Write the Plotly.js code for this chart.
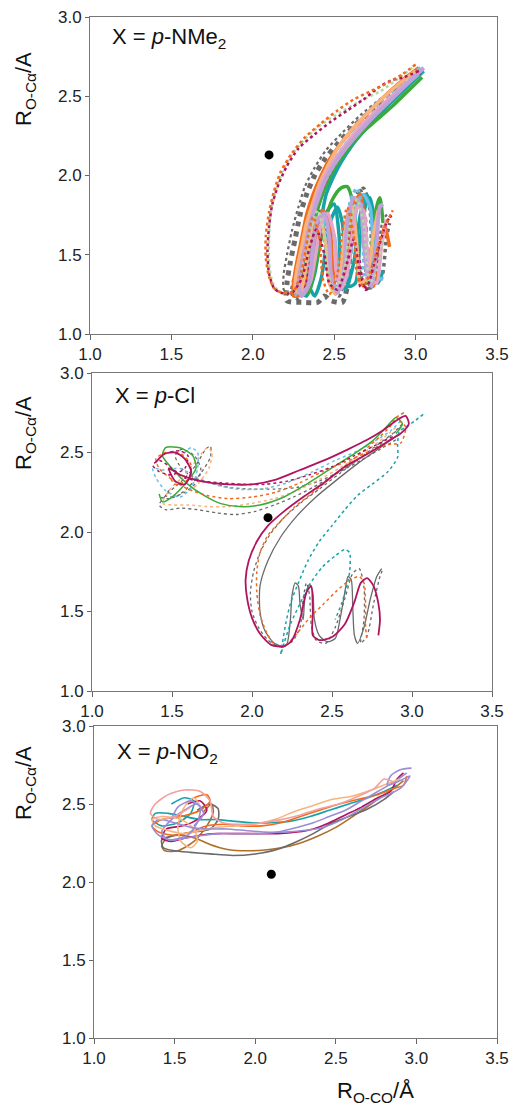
<!DOCTYPE html>
<html>
<head>
<meta charset="utf-8">
<script src="https://cdn.plot.ly/plotly-3.0.1.min.js"></script>
<style>html,body{margin:0;padding:0;background:#fff;}#chart{width:514px;height:1109px;}</style>
</head>
<body>
<div id="chart"></div>
<script>
// ---------- Axis ticks ----------
const xTicks = [1.0, 1.5, 2.0, 2.5, 3.0, 3.5];
const xTickLabels = ['1.0', '1.5', '2.0', '2.5', '3.0', '3.5'];
const yTicks = [1.0, 1.5, 2.0, 2.5, 3.0];
const yTickLabels = ['1.0', '1.5', '2.0', '2.5', '3.0'];

// ---------- Panel labels ----------
const panelLabels = ['X = <i>p</i>-NMe<sub>2</sub>', 'X = <i>p</i>-Cl', 'X = <i>p</i>-NO<sub>2</sub>'];
const yTitle = 'R<sub>O-Cα</sub>/A';
const xTitle = 'R<sub>O-CO</sub>/Å';

// ---------- Reference points (black dots) ----------
const dotNMe2 = [2.10, 2.13];
const dotCl = [2.10, 2.09];
const dotNO2 = [2.10, 2.05];

// ---------- Panel 1: X = p-NMe2 trajectories [R(O-CO), R(O-Ca)] ----------
const nme2_gray1 = [[3.04,2.66],[2.95,2.60],[2.85,2.51],[2.74,2.42],[2.62,2.31],[2.52,2.20],[2.44,2.10],[2.38,2.00],[2.33,1.88],[2.29,1.75],[2.26,1.60],[2.23,1.45],[2.21,1.32],[2.21,1.21],[2.30,1.20],[2.40,1.20],[2.44,1.24],[2.48,1.21],[2.55,1.20],[2.58,1.30],[2.60,1.55],[2.63,1.80],[2.66,1.90],[2.69,1.70],[2.70,1.40],[2.72,1.28]];
const nme2_orange1 = [[3.00,2.70],[2.92,2.64],[2.82,2.58],[2.72,2.53],[2.62,2.48],[2.52,2.41],[2.42,2.33],[2.32,2.24],[2.24,2.14],[2.17,2.02],[2.13,1.90],[2.10,1.77],[2.08,1.62],[2.08,1.48],[2.10,1.36],[2.13,1.29],[2.18,1.26],[2.25,1.27],[2.30,1.40],[2.34,1.62],[2.37,1.74],[2.41,1.60],[2.43,1.35],[2.47,1.25],[2.52,1.38],[2.55,1.65],[2.58,1.80],[2.62,1.62],[2.64,1.38],[2.68,1.30],[2.74,1.45],[2.80,1.65],[2.86,1.78]];
const nme2_magenta1 = [[3.02,2.66],[2.93,2.62],[2.85,2.60],[2.78,2.56],[2.68,2.48],[2.58,2.41],[2.48,2.34],[2.38,2.26],[2.28,2.17],[2.21,2.06],[2.16,1.95],[2.12,1.82],[2.10,1.68],[2.09,1.52],[2.10,1.38],[2.13,1.29],[2.17,1.26],[2.24,1.26],[2.30,1.35],[2.35,1.55],[2.39,1.66],[2.44,1.50],[2.47,1.32],[2.52,1.28],[2.58,1.45],[2.62,1.60],[2.65,1.42],[2.66,1.30],[2.70,1.30],[2.76,1.50],[2.82,1.70],[2.85,1.75]];
const nme2_lgreen1 = [[2.98,2.68],[2.88,2.60],[2.78,2.53],[2.66,2.47],[2.54,2.40],[2.42,2.32],[2.32,2.23],[2.24,2.13],[2.18,2.02],[2.14,1.90],[2.11,1.76],[2.10,1.60],[2.10,1.45],[2.12,1.33],[2.16,1.27],[2.22,1.26],[2.28,1.30],[2.32,1.50],[2.36,1.68],[2.40,1.78],[2.44,1.62],[2.46,1.40],[2.50,1.27],[2.56,1.40],[2.60,1.70],[2.64,1.85],[2.68,1.70],[2.70,1.45],[2.72,1.32],[2.76,1.40],[2.80,1.60]];
const nme2_gray2 = [[3.00,2.64],[2.90,2.57],[2.78,2.48],[2.66,2.38],[2.55,2.27],[2.45,2.16],[2.38,2.05],[2.32,1.93],[2.28,1.80],[2.24,1.65],[2.21,1.50],[2.19,1.38],[2.19,1.28],[2.23,1.24],[2.28,1.35],[2.32,1.55],[2.36,1.72],[2.40,1.80],[2.44,1.66],[2.46,1.45],[2.48,1.30],[2.53,1.28],[2.57,1.50],[2.60,1.70],[2.64,1.60],[2.66,1.40],[2.70,1.28],[2.75,1.45],[2.80,1.72],[2.83,1.76]];
const nme2_orange2 = [[3.02,2.68],[2.93,2.61],[2.83,2.52],[2.72,2.41],[2.62,2.30],[2.54,2.20],[2.47,2.10],[2.42,2.00],[2.37,1.88],[2.33,1.75],[2.30,1.60],[2.27,1.45],[2.25,1.32],[2.25,1.24],[2.30,1.25],[2.35,1.42],[2.39,1.65],[2.43,1.78],[2.47,1.70],[2.49,1.45],[2.51,1.28],[2.55,1.30],[2.59,1.58],[2.62,1.82],[2.66,1.88],[2.69,1.65],[2.71,1.38],[2.74,1.30],[2.78,1.50],[2.81,1.68],[2.84,1.55]];
const nme2_teal = [[3.00,2.62],[2.92,2.55],[2.82,2.45],[2.72,2.34],[2.63,2.23],[2.55,2.12],[2.49,2.02],[2.44,1.92],[2.40,1.80],[2.36,1.66],[2.33,1.52],[2.30,1.38],[2.29,1.27],[2.33,1.24],[2.38,1.38],[2.42,1.62],[2.46,1.78],[2.50,1.82],[2.53,1.62],[2.54,1.40],[2.57,1.28],[2.62,1.45],[2.66,1.75],[2.70,1.88],[2.74,1.72],[2.75,1.45],[2.77,1.32],[2.80,1.40]];
const nme2_teal2 = [[3.05,2.66],[2.97,2.58],[2.88,2.49],[2.79,2.40],[2.70,2.30],[2.61,2.19],[2.54,2.08],[2.49,1.98],[2.45,1.88],[2.43,1.78],[2.40,1.62],[2.37,1.45],[2.35,1.30],[2.38,1.24],[2.42,1.35],[2.45,1.55],[2.48,1.72],[2.52,1.80],[2.55,1.70],[2.57,1.48],[2.59,1.30],[2.63,1.32],[2.66,1.60],[2.69,1.80],[2.72,1.86],[2.75,1.70],[2.77,1.45]];
const nme2_green = [[3.04,2.62],[2.96,2.54],[2.86,2.44],[2.76,2.35],[2.66,2.26],[2.58,2.16],[2.51,2.06],[2.46,1.96],[2.42,1.86],[2.38,1.72],[2.35,1.56],[2.32,1.40],[2.30,1.28],[2.34,1.26],[2.39,1.45],[2.44,1.70],[2.49,1.85],[2.54,1.92],[2.58,1.93],[2.62,1.80],[2.64,1.55],[2.66,1.35],[2.70,1.32],[2.73,1.55],[2.76,1.80],[2.78,1.86],[2.80,1.70]];
const nme2_lblue = [[3.02,2.64],[2.94,2.57],[2.84,2.48],[2.74,2.38],[2.64,2.27],[2.56,2.16],[2.49,2.05],[2.43,1.94],[2.38,1.82],[2.34,1.68],[2.31,1.54],[2.28,1.40],[2.26,1.28],[2.30,1.24],[2.36,1.40],[2.40,1.60],[2.45,1.72],[2.50,1.62],[2.52,1.42],[2.55,1.30],[2.60,1.50],[2.64,1.80],[2.68,1.88],[2.72,1.80],[2.74,1.55],[2.76,1.35],[2.80,1.35]];
const nme2_lblue2 = [[3.03,2.68],[2.96,2.62],[2.87,2.53],[2.77,2.43],[2.67,2.32],[2.58,2.21],[2.50,2.10],[2.44,1.99],[2.39,1.88],[2.35,1.76],[2.32,1.62],[2.29,1.48],[2.27,1.34],[2.27,1.24],[2.32,1.28],[2.35,1.48],[2.38,1.66],[2.42,1.72],[2.45,1.58],[2.46,1.40],[2.50,1.28],[2.54,1.35],[2.57,1.62],[2.60,1.84],[2.64,1.92],[2.67,1.80],[2.68,1.55],[2.69,1.35],[2.73,1.32],[2.76,1.50]];
const nme2_lavender = [[3.05,2.68],[2.97,2.60],[2.87,2.50],[2.76,2.39],[2.66,2.28],[2.57,2.17],[2.50,2.07],[2.44,1.96],[2.40,1.85],[2.36,1.72],[2.33,1.58],[2.30,1.44],[2.28,1.30],[2.30,1.24],[2.34,1.30],[2.37,1.55],[2.40,1.72],[2.44,1.76],[2.47,1.60],[2.48,1.38],[2.52,1.26],[2.56,1.40],[2.58,1.70],[2.62,1.86],[2.66,1.82],[2.68,1.60],[2.70,1.40],[2.73,1.30],[2.76,1.55],[2.78,1.80],[2.80,1.82]];
const nme2_pink = [[3.04,2.67],[2.96,2.60],[2.86,2.51],[2.76,2.41],[2.66,2.31],[2.58,2.21],[2.51,2.11],[2.45,2.01],[2.40,1.90],[2.37,1.78],[2.34,1.64],[2.31,1.50],[2.29,1.36],[2.30,1.26],[2.35,1.32],[2.39,1.52],[2.42,1.70],[2.46,1.76],[2.50,1.62],[2.51,1.42],[2.54,1.28],[2.58,1.38],[2.61,1.62],[2.64,1.80],[2.68,1.78],[2.70,1.55],[2.72,1.36],[2.76,1.32],[2.79,1.55],[2.82,1.72]];
const nme2_peach = [[3.00,2.66],[2.90,2.58],[2.80,2.49],[2.70,2.39],[2.60,2.28],[2.52,2.17],[2.46,2.06],[2.41,1.95],[2.37,1.83],[2.33,1.70],[2.30,1.55],[2.27,1.40],[2.26,1.28],[2.29,1.26],[2.33,1.45],[2.37,1.70],[2.41,1.74],[2.45,1.55],[2.47,1.32],[2.51,1.25],[2.55,1.50],[2.58,1.75],[2.61,1.80],[2.64,1.55],[2.66,1.32],[2.70,1.35],[2.74,1.62],[2.77,1.78]];
const nme2_magenta2 = [[3.03,2.65],[2.95,2.59],[2.86,2.50],[2.76,2.40],[2.66,2.29],[2.58,2.19],[2.51,2.08],[2.45,1.97],[2.40,1.85],[2.36,1.72],[2.32,1.57],[2.29,1.42],[2.27,1.29],[2.31,1.26],[2.36,1.50],[2.40,1.70],[2.44,1.60],[2.47,1.40],[2.50,1.30],[2.56,1.45],[2.60,1.65],[2.64,1.55],[2.67,1.35],[2.69,1.28],[2.72,1.30],[2.78,1.55],[2.83,1.72],[2.86,1.76]];
const nme2_gray3 = [[3.02,2.63],[2.94,2.56],[2.84,2.46],[2.74,2.36],[2.64,2.25],[2.55,2.14],[2.48,2.03],[2.42,1.92],[2.37,1.80],[2.32,1.66],[2.29,1.52],[2.26,1.38],[2.24,1.26],[2.28,1.22],[2.33,1.30],[2.37,1.55],[2.41,1.70],[2.45,1.66],[2.47,1.45],[2.49,1.28],[2.53,1.24],[2.57,1.38],[2.61,1.65],[2.64,1.88],[2.68,1.92],[2.72,1.78],[2.73,1.50],[2.75,1.32],[2.79,1.35],[2.82,1.60],[2.84,1.70]];

// ---------- Panel 2: X = p-Cl trajectories ----------
const cl_magenta1 = [[1.40,2.44],[1.45,2.49],[1.52,2.50],[1.58,2.46],[1.62,2.38],[1.58,2.30],[1.52,2.32],[1.48,2.40],[1.55,2.36],[1.68,2.32],[1.85,2.30],[2.00,2.30],[2.15,2.33],[2.30,2.39],[2.45,2.45],[2.60,2.52],[2.72,2.58],[2.82,2.64],[2.90,2.70],[2.96,2.73],[2.98,2.68],[2.93,2.62],[2.85,2.57],[2.72,2.49],[2.58,2.41],[2.45,2.31],[2.32,2.22],[2.20,2.13],[2.10,2.04],[2.03,1.94],[1.98,1.82],[1.96,1.70],[1.97,1.58],[2.00,1.46],[2.05,1.36],[2.12,1.29],[2.20,1.28],[2.25,1.32],[2.30,1.45],[2.34,1.62],[2.37,1.66],[2.38,1.50],[2.38,1.35],[2.42,1.32],[2.50,1.34],[2.58,1.42],[2.64,1.56],[2.68,1.68],[2.72,1.71],[2.76,1.66],[2.79,1.55],[2.80,1.45],[2.79,1.35]];
const cl_gray1 = [[2.93,2.66],[2.86,2.60],[2.76,2.52],[2.64,2.44],[2.50,2.35],[2.38,2.28],[2.26,2.22],[2.14,2.17],[2.02,2.13],[1.90,2.11],[1.78,2.12],[1.66,2.14],[1.55,2.15],[1.46,2.14],[1.42,2.17],[1.47,2.24],[1.56,2.32],[1.65,2.42],[1.71,2.52],[1.74,2.54],[1.74,2.47],[1.68,2.37],[1.60,2.28],[1.52,2.22],[1.46,2.23],[1.50,2.28]];
const cl_gray2 = [[2.94,2.68],[2.88,2.62],[2.80,2.56],[2.68,2.47],[2.55,2.37],[2.42,2.27],[2.30,2.18],[2.19,2.08],[2.11,1.98],[2.05,1.87],[2.01,1.75],[1.99,1.62],[2.00,1.50],[2.04,1.40],[2.10,1.32],[2.17,1.28],[2.25,1.31],[2.30,1.40],[2.32,1.58],[2.34,1.68],[2.36,1.60],[2.37,1.42],[2.40,1.32],[2.46,1.30],[2.52,1.40],[2.58,1.58],[2.63,1.74],[2.67,1.77],[2.70,1.65],[2.70,1.45],[2.68,1.30],[2.72,1.35],[2.76,1.55],[2.80,1.72],[2.82,1.77]];
const cl_gray3 = [[2.92,2.62],[2.80,2.53],[2.66,2.43],[2.52,2.32],[2.40,2.22],[2.28,2.10],[2.18,1.97],[2.10,1.82],[2.05,1.66],[2.05,1.50],[2.08,1.38],[2.14,1.30],[2.20,1.28],[2.22,1.30],[2.24,1.45],[2.25,1.60],[2.27,1.68],[2.29,1.66],[2.30,1.55],[2.32,1.45],[2.33,1.58],[2.36,1.67],[2.38,1.62],[2.39,1.45],[2.42,1.35],[2.47,1.31],[2.52,1.33],[2.55,1.45],[2.58,1.62],[2.60,1.72],[2.62,1.70],[2.63,1.52],[2.64,1.35],[2.66,1.30],[2.70,1.40],[2.74,1.58],[2.78,1.72],[2.81,1.77]];
const cl_orange1 = [[2.95,2.75],[2.90,2.72],[2.86,2.66],[2.80,2.60],[2.72,2.53],[2.60,2.43],[2.48,2.33],[2.37,2.24],[2.27,2.16],[2.18,2.07],[2.10,1.98],[2.05,1.87],[2.03,1.75],[2.03,1.62],[2.05,1.48],[2.09,1.37],[2.14,1.29],[2.20,1.28],[2.28,1.36],[2.36,1.46],[2.45,1.55],[2.53,1.63],[2.60,1.69],[2.67,1.72],[2.70,1.68],[2.71,1.55],[2.71,1.40],[2.72,1.32]];
const cl_orange2 = [[2.92,2.70],[2.96,2.66],[2.93,2.56],[2.85,2.55],[2.72,2.50],[2.58,2.44],[2.44,2.38],[2.30,2.31],[2.15,2.25],[2.00,2.22],[1.85,2.21],[1.72,2.23],[1.60,2.27],[1.50,2.33],[1.42,2.40],[1.40,2.46],[1.46,2.50],[1.56,2.49],[1.62,2.42],[1.60,2.33],[1.52,2.30],[1.48,2.36]];
const cl_green = [[2.90,2.62],[2.94,2.68],[2.90,2.72],[2.84,2.66],[2.75,2.57],[2.62,2.48],[2.48,2.39],[2.34,2.30],[2.20,2.22],[2.05,2.17],[1.92,2.16],[1.80,2.18],[1.70,2.23],[1.60,2.30],[1.50,2.40],[1.44,2.48],[1.46,2.53],[1.55,2.53],[1.63,2.48],[1.65,2.40],[1.58,2.30],[1.50,2.22],[1.44,2.19],[1.42,2.24]];
const cl_lblue = [[2.93,2.70],[2.87,2.64],[2.78,2.58],[2.66,2.51],[2.52,2.45],[2.38,2.38],[2.22,2.31],[2.06,2.27],[1.90,2.27],[1.76,2.30],[1.64,2.35],[1.55,2.40],[1.45,2.39],[1.38,2.40],[1.40,2.34],[1.46,2.26],[1.55,2.22],[1.62,2.28],[1.66,2.40],[1.66,2.50],[1.62,2.53],[1.56,2.48]];
const cl_peach = [[2.90,2.66],[2.82,2.59],[2.70,2.50],[2.56,2.41],[2.42,2.33],[2.28,2.26],[2.14,2.21],[2.00,2.18],[1.86,2.16],[1.72,2.16],[1.60,2.17],[1.50,2.17],[1.44,2.18],[1.48,2.26],[1.58,2.36],[1.66,2.46],[1.72,2.53],[1.75,2.50],[1.73,2.40],[1.66,2.30],[1.58,2.24]];
const cl_magenta2 = [[2.88,2.60],[2.78,2.55],[2.64,2.48],[2.50,2.41],[2.36,2.36],[2.22,2.32],[2.08,2.30],[1.94,2.30],[1.80,2.31],[1.68,2.32],[1.58,2.34],[1.50,2.40],[1.42,2.45],[1.38,2.42],[1.42,2.38],[1.50,2.36],[1.58,2.40],[1.60,2.48],[1.55,2.51],[1.48,2.50]];
const cl_teal = [[3.07,2.74],[3.02,2.70],[2.96,2.66],[2.92,2.63],[2.91,2.55],[2.91,2.47],[2.85,2.38],[2.75,2.30],[2.66,2.23],[2.58,2.14],[2.50,2.04],[2.42,1.94],[2.35,1.82],[2.29,1.68],[2.24,1.55],[2.21,1.42],[2.19,1.30],[2.18,1.23],[2.20,1.30],[2.24,1.42],[2.30,1.55],[2.36,1.67],[2.44,1.78],[2.52,1.85],[2.58,1.89],[2.61,1.87],[2.61,1.75],[2.59,1.65],[2.56,1.55],[2.52,1.45]];
const cl_gray4 = [[2.90,2.58],[2.80,2.52],[2.68,2.45],[2.55,2.38],[2.42,2.32],[2.28,2.28],[2.14,2.27],[2.00,2.27],[1.86,2.28],[1.74,2.31],[1.64,2.34],[1.56,2.40],[1.52,2.48],[1.56,2.52],[1.64,2.48],[1.68,2.40],[1.66,2.32],[1.58,2.25],[1.48,2.21],[1.42,2.22]];

// ---------- Panel 3: X = p-NO2 trajectories ----------
const no2_brown = [[2.92,2.65],[2.86,2.60],[2.80,2.56],[2.72,2.50],[2.62,2.43],[2.50,2.35],[2.38,2.29],[2.25,2.24],[2.10,2.21],[1.95,2.20],[1.82,2.21],[1.72,2.24],[1.63,2.28],[1.52,2.30],[1.45,2.28],[1.42,2.23],[1.44,2.20],[1.52,2.20],[1.62,2.26],[1.70,2.36],[1.74,2.45],[1.73,2.50],[1.68,2.45]];
const no2_gray = [[2.86,2.58],[2.80,2.53],[2.70,2.47],[2.58,2.42],[2.46,2.37],[2.36,2.31],[2.26,2.26],[2.14,2.21],[2.00,2.18],[1.86,2.17],[1.72,2.18],[1.60,2.19],[1.50,2.20],[1.43,2.22],[1.42,2.27],[1.50,2.30],[1.62,2.32],[1.72,2.34],[1.77,2.40],[1.77,2.47],[1.72,2.50],[1.64,2.46]];
const no2_teal = [[2.88,2.62],[2.80,2.58],[2.70,2.54],[2.58,2.50],[2.46,2.46],[2.34,2.42],[2.22,2.39],[2.10,2.38],[1.98,2.38],[1.86,2.39],[1.76,2.40],[1.66,2.40],[1.56,2.42],[1.46,2.44],[1.38,2.44],[1.36,2.40],[1.42,2.36],[1.52,2.38],[1.60,2.44],[1.62,2.52],[1.56,2.54],[1.48,2.50]];
const no2_orange = [[2.94,2.68],[2.92,2.62],[2.86,2.60],[2.76,2.56],[2.64,2.53],[2.52,2.50],[2.40,2.46],[2.28,2.42],[2.16,2.38],[2.04,2.36],[1.92,2.36],[1.80,2.37],[1.70,2.36],[1.60,2.32],[1.50,2.30],[1.40,2.32],[1.36,2.36],[1.42,2.40],[1.54,2.42],[1.66,2.46],[1.72,2.52],[1.70,2.56],[1.62,2.54]];
const no2_peach = [[2.90,2.66],[2.82,2.63],[2.72,2.59],[2.60,2.55],[2.48,2.53],[2.36,2.49],[2.24,2.45],[2.12,2.40],[2.00,2.37],[1.88,2.36],[1.76,2.35],[1.66,2.33],[1.56,2.31],[1.46,2.33],[1.38,2.36],[1.36,2.40],[1.42,2.42],[1.54,2.40],[1.62,2.34],[1.64,2.26],[1.60,2.22],[1.54,2.26],[1.52,2.36],[1.56,2.48],[1.62,2.54],[1.66,2.48]];
const no2_purple1 = [[2.97,2.73],[2.90,2.72],[2.84,2.68],[2.82,2.62],[2.90,2.65],[2.96,2.68],[2.90,2.60],[2.78,2.54],[2.66,2.47],[2.54,2.40],[2.42,2.35],[2.30,2.33],[2.18,2.32],[2.06,2.32],[1.94,2.33],[1.82,2.34],[1.70,2.34],[1.60,2.35],[1.50,2.38],[1.40,2.40],[1.36,2.36],[1.40,2.30],[1.48,2.27],[1.58,2.30],[1.64,2.38],[1.66,2.48],[1.60,2.52],[1.52,2.48],[1.48,2.40]];
const no2_purple2 = [[2.94,2.70],[2.86,2.64],[2.76,2.58],[2.66,2.52],[2.56,2.46],[2.46,2.42],[2.36,2.38],[2.26,2.35],[2.14,2.32],[2.02,2.31],[1.90,2.31],[1.78,2.31],[1.68,2.30],[1.56,2.28],[1.46,2.27],[1.42,2.32],[1.48,2.40],[1.56,2.46],[1.64,2.50],[1.68,2.44],[1.62,2.36]];
const no2_magenta = [[2.92,2.70],[2.88,2.66],[2.84,2.58],[2.76,2.54],[2.66,2.48],[2.56,2.43],[2.46,2.38],[2.36,2.34],[2.26,2.32],[2.14,2.31],[2.00,2.31],[1.88,2.31],[1.76,2.31],[1.66,2.30],[1.56,2.28],[1.48,2.26],[1.42,2.28],[1.45,2.34],[1.55,2.36],[1.64,2.40],[1.70,2.46],[1.66,2.52],[1.58,2.50]];
const no2_pink = [[2.86,2.64],[2.80,2.66],[2.74,2.60],[2.64,2.55],[2.52,2.50],[2.40,2.47],[2.28,2.43],[2.16,2.40],[2.04,2.38],[1.92,2.37],[1.80,2.38],[1.74,2.42],[1.72,2.52],[1.66,2.58],[1.56,2.59],[1.46,2.56],[1.38,2.50],[1.35,2.44],[1.40,2.40],[1.50,2.42],[1.60,2.48]];

// ---------- Colours ----------
const C = {
  gray: '#6a6a6a', orange: '#f26a1b', magenta: '#b0145e', lgreen: '#b3d9a6',
  teal: '#16a3a8', green: '#3aaa3a', lblue: '#6cc0e8', lavender: '#c0a2d8',
  peach: '#f7b47e', brown: '#b06e2a', purple: '#9a8cd6', pink: '#f2a0a0',
  rose: '#e4a6c6'
};

const traces = [];
function addTraj(pairs, color, width, dash, ax) {
  traces.push({
    x: pairs.map(p => p[0]), y: pairs.map(p => p[1]),
    mode: 'lines', type: 'scatter',
    line: {color: color, width: width, dash: dash, shape: 'spline', smoothing: 0.7},
    xaxis: 'x' + ax, yaxis: 'y' + ax, hoverinfo: 'skip', showlegend: false
  });
}
function addDot(pt, ax) {
  traces.push({x: [pt[0]], y: [pt[1]], mode: 'markers', type: 'scatter',
    marker: {color: '#000', size: 9}, xaxis: 'x' + ax, yaxis: 'y' + ax, showlegend: false});
}

// Panel 1
addTraj(nme2_gray1, C.gray, 5, 'dot', '');
addTraj(nme2_gray3, C.gray, 3.5, 'dot', '');
addTraj(nme2_gray2, C.gray, 2.2, 'dot', '');
addTraj(nme2_teal, C.teal, 3.5, 'solid', '');
addTraj(nme2_teal2, C.teal, 3.5, 'solid', '');
addTraj(nme2_green, C.green, 3.5, 'solid', '');
addTraj(nme2_lblue, C.lblue, 3.5, 'solid', '');
addTraj(nme2_orange2, C.orange, 3.5, 'solid', '');
addTraj(nme2_lblue2, C.lblue, 3.5, 'dot', '');
addTraj(nme2_magenta2, C.magenta, 3, 'dot', '');
addTraj(nme2_peach, C.peach, 3.5, 'solid', '');
addTraj(nme2_pink, C.rose, 3.5, 'solid', '');
addTraj(nme2_lavender, C.lavender, 4, 'solid', '');
addTraj(nme2_lgreen1, C.lgreen, 2.5, 'dot', '');
addTraj(nme2_magenta1, C.magenta, 2.5, 'dot', '');
addTraj(nme2_orange1, C.orange, 2.5, 'dot', '');
addDot(dotNMe2, '');

// Panel 2
addTraj(cl_gray1, C.gray, 1.3, 'dot', '2');
addTraj(cl_gray2, C.gray, 1.3, 'dot', '2');
addTraj(cl_gray3, C.gray, 1.3, 'solid', '2');
addTraj(cl_gray4, C.gray, 1.3, 'dot', '2');
addTraj(cl_peach, C.peach, 1.5, 'dot', '2');
addTraj(cl_lblue, C.lblue, 1.5, 'dot', '2');
addTraj(cl_green, C.green, 1.5, 'solid', '2');
addTraj(cl_orange2, C.orange, 1.5, 'dot', '2');
addTraj(cl_orange1, C.orange, 1.5, 'dot', '2');
addTraj(cl_magenta2, C.magenta, 1.5, 'dot', '2');
addTraj(cl_teal, C.teal, 1.5, 'dot', '2');
addTraj(cl_magenta1, C.magenta, 1.8, 'solid', '2');
addDot(dotCl, '2');

// Panel 3
addTraj(no2_brown, C.brown, 1.6, 'solid', '3');
addTraj(no2_gray, C.gray, 1.6, 'solid', '3');
addTraj(no2_teal, C.teal, 1.6, 'solid', '3');
addTraj(no2_magenta, C.magenta, 1.6, 'solid', '3');
addTraj(no2_orange, C.orange, 1.6, 'solid', '3');
addTraj(no2_purple2, C.purple, 1.6, 'solid', '3');
addTraj(no2_peach, C.peach, 1.6, 'solid', '3');
addTraj(no2_purple1, C.purple, 1.6, 'solid', '3');
addTraj(no2_pink, C.pink, 1.6, 'solid', '3');
addDot(dotNO2, '3');

const W = 514, H = 1109;
const FONT = 'Liberation Sans, Arial, Helvetica, sans-serif';
function xAx(px0, px1, anchor) {
  return {domain: [px0 / W, px1 / W], range: [1, 3.5], anchor: anchor,
    tickvals: xTicks, ticktext: xTickLabels, ticks: 'outside', ticklen: 5, tickwidth: 1,
    tickcolor: '#666', showline: true, linecolor: '#777', linewidth: 1, mirror: true,
    showgrid: false, zeroline: false, tickfont: {size: 17, color: '#222', family: FONT}};
}
function yAx(py0, py1, anchor) {
  return {domain: [1 - py1 / H, 1 - py0 / H], range: [1, 3], anchor: anchor,
    tickvals: yTicks, ticktext: yTickLabels, ticks: 'outside', ticklen: 4, tickwidth: 1,
    tickcolor: '#666', showline: true, linecolor: '#777', linewidth: 1, mirror: true,
    showgrid: false, zeroline: false, tickfont: {size: 17, color: '#222', family: FONT}};
}

function ann(text, px, py, opts) {
  return Object.assign({text: text, xref: 'paper', yref: 'paper', x: px / W, y: 1 - py / H,
    showarrow: false, font: {size: 22, color: '#111', family: FONT}}, opts);
}

const layout = {
  width: W, height: H, margin: {l: 0, r: 0, t: 0, b: 0},
  paper_bgcolor: '#fff', plot_bgcolor: '#fff', showlegend: false,
  font: {family: FONT},
  xaxis: xAx(90, 497, 'y'), yaxis: yAx(17, 334, 'x'),
  xaxis2: xAx(92, 492, 'y2'), yaxis2: yAx(373, 691, 'x2'),
  xaxis3: xAx(94, 497, 'y3'), yaxis3: yAx(726, 1038, 'x3'),
  annotations: [
    ann(panelLabels[0], 110, 38, {xanchor: 'left', yanchor: 'middle'}),
    ann(panelLabels[1], 113, 395, {xanchor: 'left', yanchor: 'middle'}),
    ann(panelLabels[2], 115, 753, {xanchor: 'left', yanchor: 'middle'}),
    ann(yTitle, 25, 89, {textangle: -90, xanchor: 'center', yanchor: 'middle'}),
    ann(yTitle, 25, 433, {textangle: -90, xanchor: 'center', yanchor: 'middle'}),
    ann(yTitle, 25, 783, {textangle: -90, xanchor: 'center', yanchor: 'middle'}),
    ann(xTitle, 375, 1108, {xanchor: 'center', yanchor: 'bottom'})
  ]
};

Plotly.newPlot('chart', traces, layout, {staticPlot: true, displayModeBar: false});
</script>
</body>
</html>
